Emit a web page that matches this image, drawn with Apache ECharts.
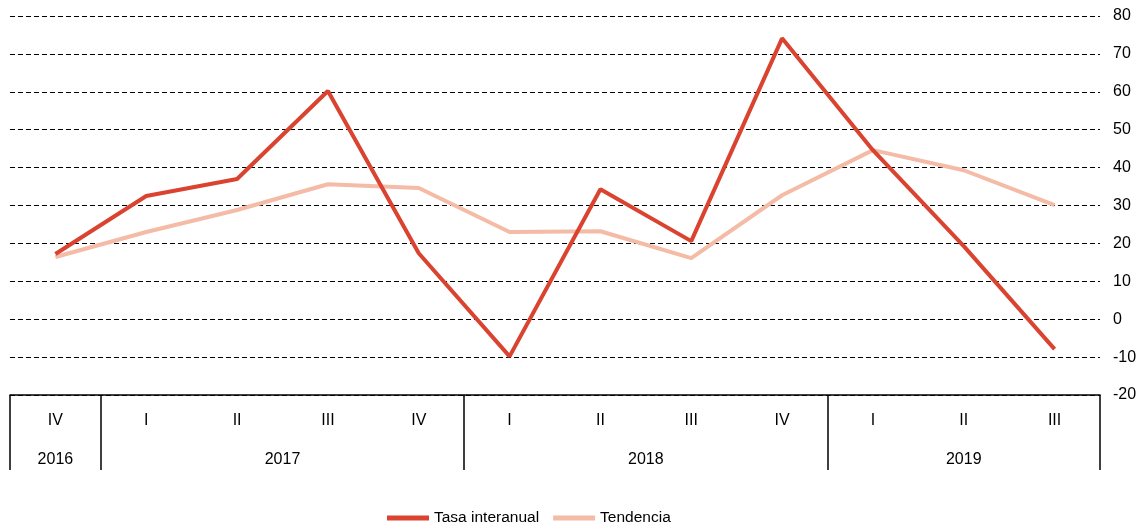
<!DOCTYPE html>
<html>
<head>
<meta charset="utf-8">
<script src="https://cdn.jsdelivr.net/npm/echarts@6/dist/echarts.min.js"></script>
<style>
  html, body { margin: 0; padding: 0; background: #fff; }
  #main { width: 1146px; height: 528px; }
</style>
</head>
<body>
<div id="main"></div>
<script>
// trimestres y años
var quarters = ['IV', 'I', 'II', 'III', 'IV', 'I', 'II', 'III', 'IV', 'I', 'II', 'III'];
var years = ['2016', '2017', '2018', '2019'];
// quarters per year, used for the year separators / labels
var yearSpan = [1, 4, 4, 3];

var tasa = [17.2, 32.5, 37.0, 60.2, 17.4, -9.8, 34.3, 20.6, 74.1, 44.6, 19.3, -7.9];
var tendencia = [16.4, 23.0, 28.8, 35.6, 34.6, 23.0, 23.2, 16.1, 32.7, 44.6, 39.3, 30.1];

var yTicks = { min: -20, max: 80, step: 10 };

// year axis: half-quarter slots, boundaryGap false
var yearSlots = [];
var tickIdx = [0];
var labelIdx = {};
var pos = 0;
for (var i = 0; i < quarters.length * 2 + 1; i++) yearSlots.push('');
for (var k = 0; k < years.length; k++) {
    labelIdx[pos + yearSpan[k]] = years[k];
    yearSlots[pos + yearSpan[k]] = years[k];
    pos += yearSpan[k] * 2;
    tickIdx.push(pos);
}

var font = 'Liberation Sans, Arial, sans-serif';

var chart = echarts.init(document.getElementById('main'));
chart.setOption({
    animation: false,
    grid: { left: 10, right: 46, top: 16, bottom: 133 },
    legend: {
        top: 505,
        left: 382,
        itemWidth: 42,
        itemHeight: 5,
        itemGap: 14,
        icon: 'rect',
        textStyle: { fontFamily: font, fontSize: 15.5, color: '#000' },
        data: ['Tasa interanual', 'Tendencia']
    },
    xAxis: [
        {
            type: 'category',
            data: quarters,
            boundaryGap: true,
            axisLine: { onZero: false, lineStyle: { color: '#000', width: 1.5 } },
            axisTick: { show: false },
            axisLabel: { margin: 18, color: '#000', fontFamily: font, fontSize: 16 }
        },
        {
            type: 'category',
            data: yearSlots,
            boundaryGap: false,
            position: 'bottom',
            axisLine: { show: false, onZero: false },
            axisTick: {
                show: true,
                length: 75,
                interval: function (idx) { return tickIdx.indexOf(idx) >= 0; },
                lineStyle: { color: '#000', width: 1.5 }
            },
            axisLabel: {
                margin: 57,
                color: '#000',
                fontFamily: font,
                fontSize: 16,
                interval: function (idx) { return labelIdx[idx] !== undefined; }
            }
        }
    ],
    yAxis: {
        type: 'value',
        position: 'right',
        min: yTicks.min,
        max: yTicks.max,
        interval: yTicks.step,
        axisLine: { show: false },
        axisTick: { show: false },
        axisLabel: { margin: 13, color: '#000', fontFamily: font, fontSize: 16 },
        splitLine: { lineStyle: { color: '#000', width: 1, type: [5, 3] } }
    },
    series: [
        {
            name: 'Tasa interanual',
            type: 'line',
            data: tasa,
            symbol: 'none',
            color: '#d9432f',
            lineStyle: { width: 4, color: '#d9432f' },
            z: 3
        },
        {
            name: 'Tendencia',
            type: 'line',
            data: tendencia,
            symbol: 'none',
            color: '#f4bba6',
            lineStyle: { width: 4, color: '#f4bba6' },
            z: 2
        }
    ]
});
</script>
</body>
</html>
